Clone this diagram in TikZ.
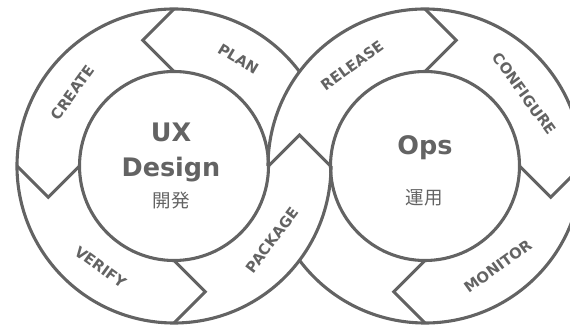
\documentclass[tikz,border=0pt]{standalone}
\usepackage{fontspec}
\setmainfont{DejaVu Sans}
\newfontfamily\cjk{Noto Sans CJK JP}
\usetikzlibrary{calc}
\definecolor{ringgray}{HTML}{636363}
\begin{document}
\begin{tikzpicture}[x=1pt,y=1pt,
  ring/.style={draw=ringgray, line width=3.1pt},
  lbl/.style={text=ringgray, font=\bfseries\fontsize{14.8}{14.8}\selectfont, inner sep=0pt, anchor=center},
  title/.style={text=ringgray, font=\bfseries\fontsize{25.5}{25.5}\selectfont, inner sep=0pt, anchor=base},
  sub/.style={text=ringgray, font=\cjk\fontsize{18.5}{18.5}\selectfont, inner sep=0pt, anchor=base}]
\useasboundingbox (0,0) rectangle (570,326);
\clip (0,0) rectangle (570,326);
\coordinate (L) at (174,160);
\coordinate (R) at (425,160);
% inner circles
\draw[ring] (L) circle[radius=94.5];
\draw[ring] (R) circle[radius=94.5];
% outer arcs
\draw[ring] ([shift={(36.9:157)}]L) arc[start angle=36.9, end angle=360, radius=157];
\draw[ring] ([shift={(-143.1:157)}]R) arc[start angle=-143.1, end angle=180, radius=157];
% chevrons left ring
\draw[ring] ($(L)+(0,157)$) -- ++(-31.25,-31.25) -- ($(L)+(0,94.5)$);
\draw[ring] ($(L)+(-157,0)$) -- ++(31.25,-31.25) -- ($(L)+(-94.5,0)$);
\draw[ring] ($(L)+(0,-94.5)$) -- ++(31.25,-31.25) -- ($(L)+(0,-157)$);
% crossing
\draw[ring] ($(L)+(94.5,0)$) -- ++(31,31) -- ($(R)+(-94.5,0)$);
% chevrons right ring
\draw[ring] ($(R)+(0,157)$) -- ++(31.25,-31.25) -- ($(R)+(0,94.5)$);
\draw[ring] ($(R)+(94.5,0)$) -- ++(31.25,-31.25) -- ($(R)+(157,0)$);
\draw[ring] ($(R)+(0,-94.5)$) -- ++(-31.25,-31.25) -- ($(R)+(0,-157)$);
% labels
\node[lbl, rotate=-31] (plan) at ($(L)+(59:125)$) {PLAN};
\node[lbl, rotate=54] (create) at ($(L)+(144:125)$) {CREATE};
\node[lbl, rotate=-36] (verify) at ($(L)+(-126:125)$) {VERIFY};
\node[lbl, rotate=53] (package) at ($(L)+(-37:123)$) {PACKAGE};
\node[lbl, rotate=36] (release) at ($(R)+(126:124)$) {RELEASE};
\node[lbl, rotate=-54] (configure) at ($(R)+(36:123)$) {CONFIGURE};
\node[lbl, rotate=36] (monitor) at ($(R)+(-54:124)$) {MONITOR};
% centres
\node[title] (ux) at (171,184) {UX};
\node[title] (design) at (171,149) {Design};
\node[sub] (kaihatsu) at (171,118) {開発};
\node[title] (ops) at (425,171) {Ops};
\node[sub] (unyou) at (424,121) {運用};
\end{tikzpicture}
\end{document}
